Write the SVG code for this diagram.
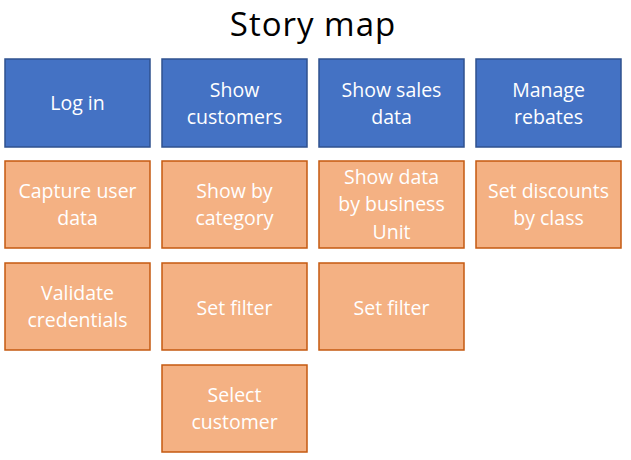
<svg xmlns="http://www.w3.org/2000/svg" width="631" height="460" viewBox="0 0 631 460">
<style>
.b{fill:#4472C4;stroke:#2F528F;stroke-width:1.5}
.o{fill:#F4B183;stroke:#C55A11;stroke-width:1.5}
.t{font-family:"Open Sans","Noto Sans",sans-serif;font-size:19.5px;fill:#fff;text-anchor:middle}
.h{font-family:"Open Sans","Noto Sans",sans-serif;font-size:33px;letter-spacing:1px;fill:#000;text-anchor:middle}
</style>
<rect width="631" height="460" fill="#fff"/>
<text class="h" x="313" y="36">Story map</text>
<g id="login"><rect class="b" x="5" y="59" width="145" height="88"/><text class="t" x="77.5" y="110">Log in</text></g>
<g id="showcustomers"><rect class="b" x="162" y="59" width="145" height="88"/><text class="t" x="234.5" y="97">Show</text><text class="t" x="234.5" y="124">customers</text></g>
<g id="showsales"><rect class="b" x="319" y="59" width="145" height="88"/><text class="t" x="391.5" y="97">Show sales</text><text class="t" x="391.5" y="124">data</text></g>
<g id="rebates"><rect class="b" x="476" y="59" width="145" height="88"/><text class="t" x="548.5" y="97">Manage</text><text class="t" x="548.5" y="124">rebates</text></g>
<g id="capture"><rect class="o" x="5" y="161" width="145" height="87"/><text class="t" x="77.5" y="198">Capture user</text><text class="t" x="77.5" y="225">data</text></g>
<g id="validate"><rect class="o" x="5" y="263" width="145" height="87"/><text class="t" x="77.5" y="300">Validate</text><text class="t" x="77.5" y="327">credentials</text></g>
<g id="bycategory"><rect class="o" x="162" y="161" width="145" height="87"/><text class="t" x="234.5" y="198">Show by</text><text class="t" x="234.5" y="225">category</text></g>
<g id="filter1"><rect class="o" x="162" y="263" width="145" height="87"/><text class="t" x="234.5" y="315">Set filter</text></g>
<g id="selectcustomer"><rect class="o" x="162" y="365" width="145" height="87"/><text class="t" x="234.5" y="402">Select</text><text class="t" x="234.5" y="429">customer</text></g>
<g id="byunit"><rect class="o" x="319" y="161" width="145" height="87"/><text class="t" x="391.5" y="184">Show data</text><text class="t" x="391.5" y="211">by business</text><text class="t" x="391.5" y="239">Unit</text></g>
<g id="filter2"><rect class="o" x="319" y="263" width="145" height="87"/><text class="t" x="391.5" y="315">Set filter</text></g>
<g id="discounts"><rect class="o" x="476" y="161" width="145" height="87"/><text class="t" x="548.5" y="198">Set discounts</text><text class="t" x="548.5" y="225">by class</text></g>
<g id="connectors"/>
</svg>
